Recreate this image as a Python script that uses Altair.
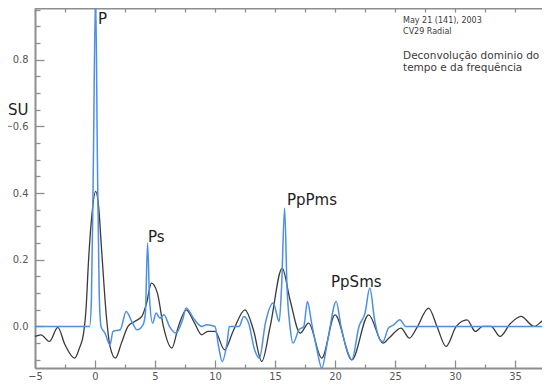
import altair as alt
import pandas as pd

# ---- data ----
t_black = [-5.0, -4.5, -3.8, -3.1, -2.5, -1.7, -1.3, -0.95, -0.75, -0.55, -0.27, 0.05, 0.3, 0.55, 0.95,
           1.25, 1.7, 2.2, 2.75, 3.3, 3.9, 4.3, 4.7, 5.2, 5.7, 6.4, 6.95, 7.6, 8.3, 8.9, 9.4, 10.0,
           10.8, 11.5, 12.5, 13.2, 13.9, 14.6, 15.6, 16.25, 17.1, 17.8, 18.9, 20.0, 21.4, 22.8,
           24.0, 24.5, 25.5, 26.2, 26.8, 27.8, 28.5, 29.25, 30.1, 31.0, 31.7, 32.3, 33.0, 33.75,
           34.6, 35.5, 36.6, 37.5, 38.0]
v_black = [-0.03, -0.025, -0.045, -0.003, -0.055, -0.095, -0.065, -0.02, 0.05, 0.19, 0.33, 0.405, 0.36, 0.23, 0.03,
           -0.06, -0.095, -0.05, 0.0, 0.015, 0.03, 0.07, 0.13, 0.10, 0.0, -0.065, 0.0, 0.05, 0.01, -0.025, -0.015, -0.015,
           -0.07, -0.015, 0.05, -0.01, -0.105, 0.0, 0.175, 0.08, -0.02, 0.01, -0.095, 0.035, -0.1, 0.035,
           -0.05, -0.035, -0.005, -0.035, -0.005, 0.055, 0.0, -0.06, 0.0, 0.02, -0.015, 0.0, 0.0, -0.03,
           0.008, 0.03, 0.0, 0.02, 0.02]

t_blue = [-5.0, -0.45, -0.3, -0.15, 0.05, 0.2, 0.35, 0.5, 0.83, 1.25, 1.5, 2.1, 2.6, 3.1, 3.5, 4.0, 4.2,
          4.38, 4.55, 4.8, 5.1, 5.4, 5.75, 6.2, 6.75, 7.3, 7.6, 8.2, 8.9, 9.3, 10.0, 10.3, 10.6, 11.0,
          11.2, 12.0, 12.4, 12.8, 13.3, 13.7, 14.2, 14.85, 15.35, 15.55, 15.8, 16.0, 16.25, 16.5, 17.0,
          17.4, 17.7, 18.05, 18.5, 18.9, 19.4, 20.1, 20.5, 21.0, 21.4, 22.0, 22.5, 22.9, 23.3, 23.75,
          24.0, 24.45, 24.9, 25.4, 25.9, 38.0]
v_blue = [0.0, 0.0, 0.08, 0.45, 1.0, 0.5, 0.1, 0.0, -0.02, -0.055, -0.015, -0.01, 0.045, 0.012, -0.01, 0.005, 0.04,
          0.25, 0.08, 0.01, 0.04, 0.025, 0.035, 0.0, -0.02, 0.02, 0.055, 0.025, 0.0, 0.005, 0.0, -0.06, -0.105, -0.05,
          0.0, 0.0, 0.03, 0.01, -0.07, -0.095, 0.01, 0.07, 0.015, 0.12, 0.355, 0.12, 0.0, -0.05, -0.01,
          0.0, 0.075, 0.01, -0.07, -0.125, -0.04, 0.075, 0.0, -0.07, -0.1, 0.0, 0.04, 0.115, 0.02, -0.04,
          -0.045, -0.005, 0.005, 0.02, 0.0, 0.0]

peak_names = ["P", "Ps", "PpPms", "PpSms"]
peak_t = [0.25, 4.42, 16.0, 19.67]
peak_v = [0.922, 0.267, 0.38, 0.134]

note_lines = ["May 21 (141), 2003", "CV29 Radial", "Deconvolução dominio do", "tempo e da frequência"]
note_t = [25.67, 25.67, 25.67, 25.67]
note_v = [0.917, 0.884, 0.810, 0.774]
note_size = [8, 8, 10.5, 10.5]

side_text = ["SU"]
side_t = [-5.55]
side_v = [0.65]

x_major = [-5, 0, 5, 10, 15, 20, 25, 30, 35]
x_minor = [-2.5, 2.5, 7.5, 12.5, 17.5, 22.5, 27.5, 32.5]
x_top = [-5, -2.5, 0, 2.5, 5, 7.5, 10, 12.5, 15, 17.5, 20, 22.5, 25, 27.5, 30, 32.5, 35]
y_major = [0.0, 0.2, 0.4, 0.6, 0.8]
y_minor = [-0.1, -0.05, 0.05, 0.1, 0.15, 0.25, 0.3, 0.35, 0.45, 0.5, 0.55, 0.65, 0.7, 0.75, 0.85, 0.9, 0.95]

X_DOMAIN = [-5, 37.25]
Y_DOMAIN = [-0.1246, 0.955]

AX_COL = "#8e8e8e"
LBL_FONT = "Liberation Sans Narrow, DejaVu Sans Condensed, Liberation Sans, sans-serif"
TXT_FONT = "DejaVu Sans, sans-serif"

black_df = pd.DataFrame({"t": t_black, "v": v_black})
blue_df = pd.DataFrame({"t": t_blue, "v": v_blue})
peak_df = pd.DataFrame({"t": peak_t, "v": peak_v, "name": peak_names})
note_df = pd.DataFrame({"t": note_t, "v": note_v, "txt": note_lines, "size": note_size})
side_df = pd.DataFrame({"t": side_t, "v": side_v, "txt": side_text})
side_rule_df = pd.DataFrame({"t": [-8.0], "t2": [-6.9], "v": [0.6]})

xs = alt.Scale(domain=X_DOMAIN, nice=False, zero=False)
ys = alt.Scale(domain=Y_DOMAIN, nice=False, zero=False)

common = dict(grid=False, title=None, tickColor=AX_COL, tickWidth=1.3, domainColor=AX_COL, domainWidth=2)

# layer 1: black line, with bottom/left axis lines
black = alt.Chart(black_df).mark_line(color="#3a3a3a", strokeWidth=1.3, interpolate="monotone").encode(
    x=alt.X("t:Q", scale=xs, axis=alt.Axis(orient="bottom", domain=True, ticks=False, labels=False, **common)),
    y=alt.Y("v:Q", scale=ys, axis=alt.Axis(orient="left", domain=True, ticks=False, labels=False, **common)),
)

# layer 2: blue line, with major ticks + labels
blue = alt.Chart(blue_df).mark_line(color="#4b8fe6", strokeWidth=1.5, interpolate="monotone").encode(
    x=alt.X("t:Q", scale=xs, axis=alt.Axis(orient="bottom", values=x_major, domain=False, tickSize=8, offset=-8,
                                           labelPadding=2, labelFont=LBL_FONT, labelFontSize=11,
                                           labelColor="#555555", labelFlush=False, **common)),
    y=alt.Y("v:Q", scale=ys, axis=alt.Axis(orient="left", values=y_major, domain=False, tickSize=9, offset=-9,
                                           format=".1f", labelPadding=7, labelFont=LBL_FONT, labelFontSize=11,
                                           labelColor="#555555", **common)),
)

# layer 3: peak labels, with minor ticks
peaks = alt.Chart(peak_df).mark_text(align="left", baseline="middle", font=TXT_FONT, fontSize=15,
                                     color="#222222").encode(
    x=alt.X("t:Q", scale=xs, axis=alt.Axis(orient="bottom", values=x_minor, domain=False, tickSize=4, offset=-4,
                                           labels=False, **common)),
    y=alt.Y("v:Q", scale=ys, axis=alt.Axis(orient="left", values=y_minor, domain=False, tickSize=5, offset=-5,
                                           labels=False, **common)),
    text="name:N",
)

# layer 4: annotation block, with top axis line
notes = alt.Chart(note_df).mark_text(align="left", baseline="middle", font=TXT_FONT, color="#3a3a3a").encode(
    x=alt.X("t:Q", scale=xs, axis=alt.Axis(orient="top", domain=True, ticks=False, labels=False, **common)),
    y=alt.Y("v:Q", scale=ys, axis=None),
    text="txt:N",
    size=alt.Size("size:Q", scale=None, legend=None),
)

# layer 5: stray side label, with top ticks
side = alt.Chart(side_df).mark_text(align="right", baseline="middle", font=TXT_FONT, fontSize=15,
                                    color="#222222").encode(
    x=alt.X("t:Q", scale=xs, axis=alt.Axis(orient="top", values=x_top, domain=False, tickSize=4, offset=-4,
                                           labels=False, **common)),
    y=alt.Y("v:Q", scale=ys, axis=None),
    text="txt:N",
)

side_rule = alt.Chart(side_rule_df).mark_rule(color="#777777", strokeWidth=1).encode(
    x=alt.X("t:Q", scale=xs, axis=None),
    x2="t2:Q",
    y=alt.Y("v:Q", scale=ys, axis=None),
)

chart = alt.layer(black, blue, peaks, notes, side, side_rule).resolve_axis(
    x="independent", y="independent"
).properties(
    width=507, height=360,
    autosize=alt.AutoSizeParams(type="none"),
    padding={"left": 27, "top": 0, "right": 0, "bottom": 16},
    background="white",
).configure_view(stroke=None)

chart.save("out.html", embed_options={"renderer": "svg", "actions": False})
